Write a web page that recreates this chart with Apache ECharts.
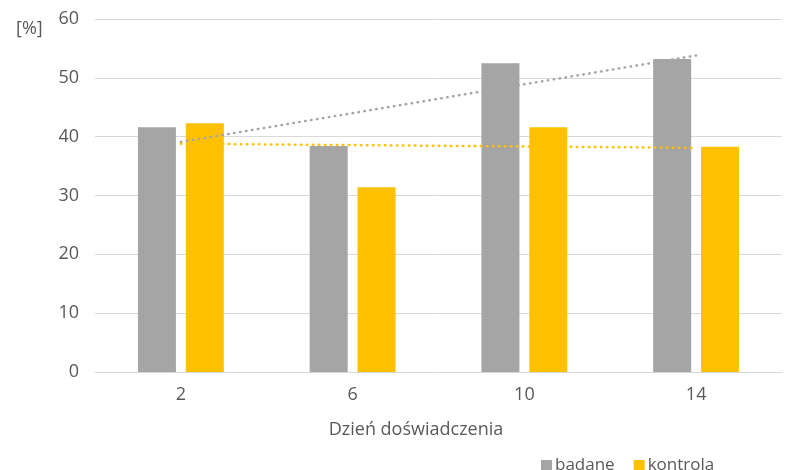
<!DOCTYPE html>
<html>
<head>
<meta charset="utf-8">
<script src="https://cdn.jsdelivr.net/npm/echarts@6/dist/echarts.min.js"></script>
<style>
  html, body { margin: 0; padding: 0; background: #fff; }
  #chart { width: 785px; height: 470px; }
</style>
</head>
<body>
<div id="chart"></div>
<script>
// Day of the experiment
const days = ['2', '6', '10', '14'];
// Measured share [%] per group
const badane = [41.6, 38.4, 52.5, 53.2];
const kontrola = [42.3, 31.4, 41.6, 38.3];
// Linear trend lines: values at the first and last day (gaps bridged)
const trendBadane = [39.1, null, null, 53.8];
const trendKontrola = [38.8, null, null, 38.1];
const yTicks = { min: 0, max: 60, step: 10 };

const GRAY = '#A5A5A5';
const GOLD = '#FFC000';
const TEXT = '#595959';
const GRID = '#D9D9D9';
const FONT = '"Open Sans", "Noto Sans", sans-serif';

const chart = echarts.init(document.getElementById('chart'), null, { renderer: 'canvas' });

const dotted = (color) => ({
  color: color,
  width: 2.5,
  type: [0.5, 5.5],
  cap: 'round'
});

chart.setOption({
  animation: false,
  textStyle: { fontFamily: FONT, color: TEXT },
  title: [
    {
      text: '[%]',
      left: 11, top: 15,
      textStyle: { fontFamily: FONT, fontSize: 18, fontWeight: 'normal', color: TEXT }
    },
    {
      text: 'Dzień doświadczenia',
      left: 411, top: 416,
      textAlign: 'center',
      textStyle: { fontFamily: FONT, fontSize: 18, fontWeight: 'normal', color: TEXT }
    }
  ],
  legend: {
    data: ['badane', 'kontrola'],
    left: 536, top: 452,
    icon: 'rect',
    itemWidth: 11, itemHeight: 11,
    itemGap: 19,
    textStyle: { fontFamily: FONT, fontSize: 17, color: TEXT, padding: [0, 0, 0, -2] }
  },
  grid: { left: 95, right: 3, top: 19, bottom: 98, containLabel: false },
  xAxis: {
    type: 'category',
    data: days,
    axisLine: { lineStyle: { color: GRID, width: 1 } },
    axisTick: { show: false },
    axisLabel: { fontFamily: FONT, fontSize: 18, color: TEXT, margin: 14 }
  },
  yAxis: {
    type: 'value',
    min: yTicks.min, max: yTicks.max, interval: yTicks.step,
    axisLine: { show: false },
    axisTick: { show: false },
    splitLine: { lineStyle: { color: GRID, width: 1 } },
    axisLabel: { fontFamily: FONT, fontSize: 18, color: TEXT, margin: 16 }
  },
  series: [
    {
      name: 'badane', type: 'bar', data: badane,
      barWidth: 38, barGap: '26%',
      itemStyle: { color: GRAY }
    },
    {
      name: 'kontrola', type: 'bar', data: kontrola,
      barWidth: 38, barGap: '26%',
      itemStyle: { color: GOLD }
    },
    {
      name: 'trend badane', type: 'line', data: trendBadane,
      connectNulls: true, symbol: 'none', z: 5,
      lineStyle: dotted(GRAY)
    },
    {
      name: 'trend kontrola', type: 'line', data: trendKontrola,
      connectNulls: true, symbol: 'none', z: 5,
      lineStyle: dotted(GOLD)
    }
  ]
});
</script>
</body>
</html>
